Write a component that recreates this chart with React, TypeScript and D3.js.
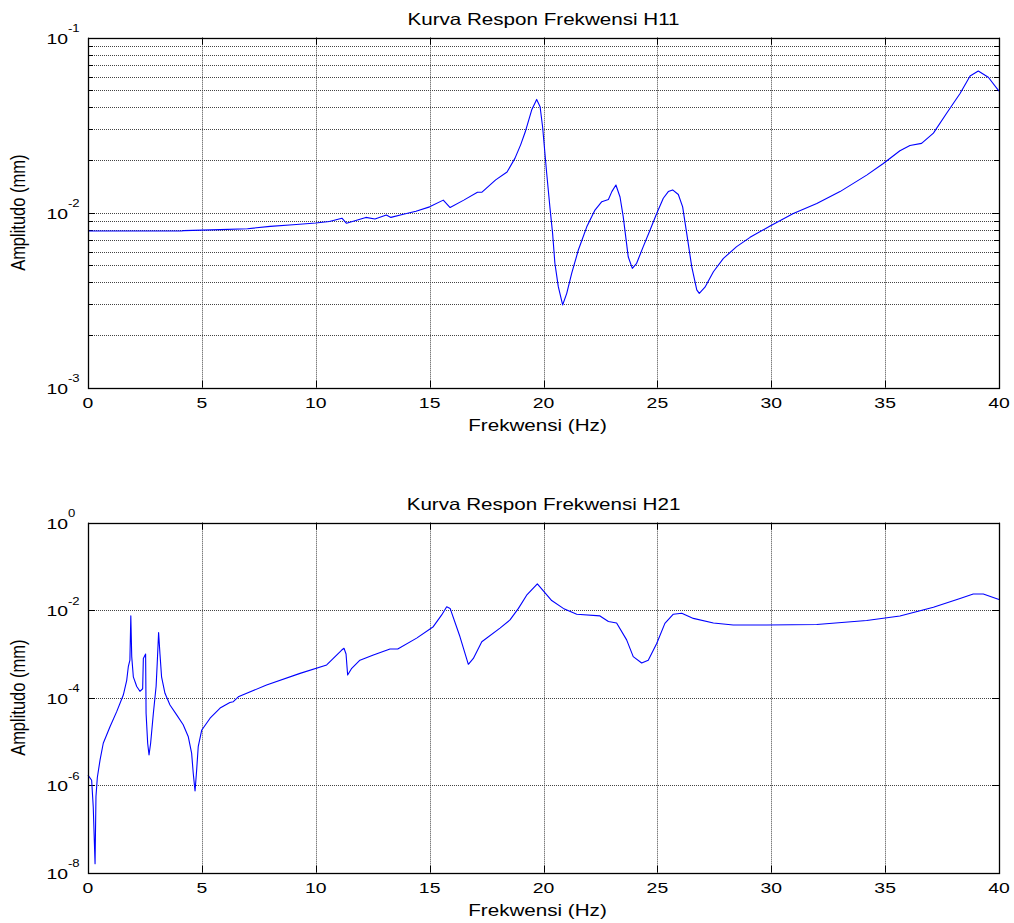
import React from 'react';
import { scaleLinear, scaleLog, line } from 'd3';

const width = 1014;
const height = 923;
const stretch = 1.25;
const font = "Arial, 'Liberation Sans', Helvetica, sans-serif";

// H11 readings: frequency (Hz) and amplitude (mm)
const freqH11 = [
    0, 4.1, 4.2, 5.8, 7.0, 8.0, 9.0, 10.0, 10.6, 11.15, 11.35, 12.2, 12.6, 13.1, 13.3, 13.85, 14.4, 15.0,
    15.6, 15.9, 16.5, 17.1, 17.3, 17.9, 18.4, 18.75, 19.0, 19.2, 19.48, 19.7, 19.85, 19.96, 20.14, 20.28,
    20.4, 20.5, 20.65, 20.84, 21.02, 21.24, 21.53, 21.9, 22.26, 22.56, 22.85, 23.0, 23.18, 23.36, 23.5,
    23.72, 23.9, 24.09, 24.38, 24.68, 24.97, 25.26, 25.48, 25.67, 25.92, 26.11, 26.29, 26.51, 26.73, 26.84,
    27.09, 27.46, 27.9, 28.48, 29.07, 29.95, 30.97, 32.0, 33.02, 34.19, 34.92, 35.65, 36.09, 36.6, 37.12,
    37.7, 38.29, 38.73, 39.09, 39.53, 40.0
];
const ampH11 = [
    0.00786, 0.00786, 0.0079, 0.0080, 0.0081, 0.00835, 0.00853, 0.00873, 0.0089, 0.0093, 0.0087, 0.0094,
    0.0092, 0.0097, 0.0094, 0.0098, 0.0102, 0.0108, 0.0118, 0.0107, 0.0118, 0.0131, 0.0131, 0.0154, 0.0171,
    0.0205, 0.0245, 0.029, 0.0386, 0.0444, 0.0403, 0.031, 0.0168, 0.0108, 0.0076, 0.00514, 0.00378, 0.00297,
    0.00346, 0.00451, 0.00612, 0.0083, 0.01035, 0.01156, 0.0119, 0.0132, 0.0144, 0.0123, 0.0095, 0.0056,
    0.00481, 0.00514, 0.0064, 0.00796, 0.0099, 0.0121, 0.0132, 0.0135, 0.0127, 0.0108, 0.0076, 0.0049,
    0.00362, 0.00346, 0.00375, 0.0046, 0.00548, 0.0064, 0.00723, 0.0084, 0.0099, 0.0113, 0.0132, 0.0164,
    0.0191, 0.0226, 0.0242, 0.0249, 0.0285, 0.037, 0.048, 0.0604, 0.0645, 0.0594, 0.0495
];

// H21 readings
const freqH21 = [
    0, 0.16, 0.23, 0.31, 0.35, 0.41, 0.53, 0.67, 0.97, 1.26, 1.55, 1.7, 1.77, 1.84, 1.88, 1.92, 1.99, 2.14,
    2.28, 2.4, 2.43, 2.53, 2.55, 2.62, 2.68, 2.75, 2.87, 2.99, 3.04, 3.1, 3.16, 3.23, 3.38, 3.6, 3.9, 4.18,
    4.4, 4.55, 4.62, 4.7, 4.77, 4.84, 4.99, 5.36, 5.8, 6.23, 6.38, 6.6, 7.84, 9.31, 10.48, 11.14, 11.24,
    11.33, 11.4, 11.58, 11.94, 12.53, 13.26, 13.6, 14.43, 15.16, 15.53, 15.75, 15.9, 16.33, 16.7, 16.92,
    17.29, 18.09, 18.53, 18.9, 19.26, 19.73, 20.36, 20.87, 21.46, 22.48, 22.85, 23.21, 23.65, 23.94, 24.31,
    24.6, 24.97, 25.33, 25.7, 26.07, 26.58, 27.46, 28.33, 29.8, 32.0, 34.19, 35.65, 37.12, 38.29, 38.87,
    39.31, 40.0
];
const ampH21 = [
    1.7e-6, 1.3e-6, 3.2e-7, 1.6e-8, 5.5e-7, 1.5e-6, 3.8e-6, 9.1e-6, 2.2e-5, 4.8e-5, 1.15e-4, 2.5e-4, 5.1e-4,
    7.2e-4, 7.4e-3, 8.7e-4, 3.0e-4, 1.8e-4, 1.4e-4, 1.6e-4, 7.9e-4, 1.0e-3, 4.4e-5, 9.1e-6, 4.9e-6, 9.1e-6,
    4.4e-5, 1.8e-4, 6.2e-4, 3.1e-3, 1.0e-3, 3.0e-4, 1.26e-4, 6.8e-5, 4.0e-5, 2.4e-5, 1.3e-5, 5.4e-6, 1.9e-6,
    7.4e-7, 2.2e-6, 7.6e-6, 1.8e-5, 3.4e-5, 5.8e-5, 7.8e-5, 8.1e-5, 1.05e-4, 1.95e-4, 3.6e-4, 5.6e-4,
    1.23e-3, 1.35e-3, 1.0e-3, 3.3e-4, 4.7e-4, 7.2e-4, 9.5e-4, 1.3e-3, 1.3e-3, 2.3e-3, 4.2e-3, 7.8e-3,
    1.2e-2, 1.1e-2, 2.5e-3, 5.8e-4, 7.9e-4, 1.9e-3, 3.9e-3, 6.0e-3, 1.1e-2, 2.2e-2, 4.0e-2, 1.66e-2,
    1.1e-2, 8.1e-3, 7.4e-3, 5.5e-3, 5.1e-3, 2.1e-3, 8.7e-4, 6.2e-4, 7.2e-4, 1.74e-3, 5.0e-3, 8.1e-3,
    8.5e-3, 6.5e-3, 5.1e-3, 4.6e-3, 4.6e-3, 4.7e-3, 5.8e-3, 7.4e-3, 1.17e-2, 1.86e-2, 2.34e-2, 2.34e-2,
    1.75e-2
];

const xTicks = [0, 5, 10, 15, 20, 25, 30, 35, 40];
const h11Majors = [-1, -2, -3];
const h11Minors = [2, 3, 4, 5, 6, 7, 8, 9];
const h21Majors = [0, -2, -4, -6, -8];

const crisp = (v: number) => Math.round(v) + 0.5;

function Txt({ x, y, size, anchor = 'middle', rotate = 0, children }: any) {
    return (
        <g transform={`translate(${x},${y}) scale(${stretch},1) rotate(${rotate})`}>
            <text x={0} y={0} fontSize={size} textAnchor={anchor} fontFamily={font} fill="#000">{children}</text>
        </g>
    );
}

function Panel({ title, top, bottom, domain, majors, minors, freq, amp }: any) {
    const left = 88;
    const right = 999;
    const x = scaleLinear().domain([0, 40]).range([left, right]);
    const y = scaleLog().domain(domain).range([top, bottom]);
    const pts = freq.map((f: number, i: number) => [f, amp[i]]);
    const path = line<number[]>().x(d => x(d[0])).y(d => y(d[1]))(pts) || '';

    const minorVals: number[] = [];
    if (minors) {
        majors.slice(1).forEach((e: number) => {
            minors.forEach((m: number) => minorVals.push(m * Math.pow(10, e)));
        });
    }
    const gridY = [...majors.map((e: number) => Math.pow(10, e)), ...minorVals];
    const cy = (top + bottom) / 2;

    return (
        <g>
            {/* grid */}
            {xTicks.slice(1, -1).map(t => (
                <line key={'gx' + t} x1={crisp(x(t))} x2={crisp(x(t))} y1={top} y2={bottom}
                    stroke="#444" strokeDasharray="1,1" />
            ))}
            {gridY.map((v, i) => (
                <line key={'gy' + i} x1={left} x2={right} y1={crisp(y(v))} y2={crisp(y(v))}
                    stroke="#444" strokeDasharray="1,1" />
            ))}
            {/* ticks */}
            {xTicks.map(t => (
                <g key={'tx' + t}>
                    <line x1={crisp(x(t))} x2={crisp(x(t))} y1={bottom} y2={bottom - 7} stroke="#000" />
                    <line x1={crisp(x(t))} x2={crisp(x(t))} y1={top} y2={top + 7} stroke="#000" />
                </g>
            ))}
            {majors.map((e: number) => (
                <g key={'ty' + e}>
                    <line x1={left} x2={left + 7} y1={crisp(y(Math.pow(10, e)))} y2={crisp(y(Math.pow(10, e)))} stroke="#000" />
                    <line x1={right} x2={right - 7} y1={crisp(y(Math.pow(10, e)))} y2={crisp(y(Math.pow(10, e)))} stroke="#000" />
                </g>
            ))}
            {minorVals.map((v, i) => (
                <g key={'tm' + i}>
                    <line x1={left} x2={left + 5} y1={crisp(y(v))} y2={crisp(y(v))} stroke="#000" />
                    <line x1={right} x2={right - 5} y1={crisp(y(v))} y2={crisp(y(v))} stroke="#000" />
                </g>
            ))}
            {/* curve */}
            <path d={path} fill="none" stroke="#0000ff" strokeWidth={1.1} strokeLinejoin="round" />
            {/* box */}
            <rect x={crisp(left)} y={crisp(top)} width={right - left} height={bottom - top}
                fill="none" stroke="#000" strokeWidth={1.3} />
            {/* labels */}
            {xTicks.map(t => (
                <Txt key={'lx' + t} x={x(t)} y={bottom + 20.5} size={15.5}>{t}</Txt>
            ))}
            {majors.map((e: number) => (
                <g key={'ly' + e} transform={`translate(68,${y(Math.pow(10, e))}) scale(${stretch},1)`}>
                    <text x={0} y={6} fontSize={15.5} textAnchor="end" fontFamily={font}>10</text>
                    <text x={0} y={-5.5} fontSize={10.5} textAnchor="start" fontFamily={font}>{e}</text>
                </g>
            ))}
            <Txt x={(left + right) / 2} y={top - 12.5} size={16.5}>{title}</Txt>
            <Txt x={(left + right) / 2 - 6} y={bottom + 43} size={16.5}>Frekwensi (Hz)</Txt>
            <Txt x={25} y={cy} size={16.5} rotate={-90}>Amplitudo (mm)</Txt>
        </g>
    );
}

export default function App() {
    return (
        <svg width={width} height={height} style={{ position: 'absolute', left: 0, top: 0, background: '#fff' }}>
            <rect width={width} height={height} fill="#fff" />
            <Panel title="Kurva Respon Frekwensi H11" top={37.7} bottom={387.7} domain={[1e-1, 1e-3]}
                majors={h11Majors} minors={h11Minors} freq={freqH11} amp={ampH11} />
            <Panel title="Kurva Respon Frekwensi H21" top={522.7} bottom={872.7} domain={[1, 1e-8]}
                majors={h21Majors} minors={null} freq={freqH21} amp={ampH21} />
        </svg>
    );
}
